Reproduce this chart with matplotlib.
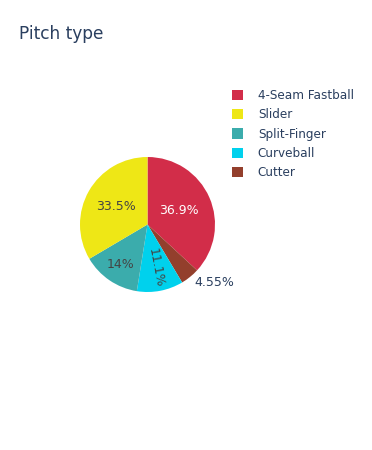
import numpy as np
import matplotlib
matplotlib.use("Agg")
import matplotlib.pyplot as plt
from matplotlib.patches import Patch

# ---- data ----
pitch_types = ["4-Seam Fastball", "Slider", "Split-Finger", "Curveball", "Cutter"]
shares = [36.9, 33.5, 14.0, 11.1, 4.55]
colors = ["#D22D49", "#EEE716", "#3BACAC", "#00D1ED", "#933F2C"]
title = "Pitch type"

# clockwise drawing order of slices starting at 12 o'clock
pie_order = [0, 4, 3, 2, 1]
# label placement (style): radial distance, text colour, radial rotation, outside
label_dist = {0: 0.50, 1: 0.54, 2: 0.72, 3: 0.65, 4: 1.11}
label_color = {0: "white", 1: "#444444", 2: "#444444", 3: "#444444", 4: "#2a3f5f"}
radial = {3}
outside = {4}

W, H = 372, 450
fig = plt.figure(figsize=(W / 100, H / 100), dpi=100)
plt.rcParams["font.family"] = ["DejaVu Sans"]

cx, cy, R = 147.5, 224.5, 67.5
lim = 1.5
size = 2 * lim * R
ax = fig.add_axes([(cx - size / 2) / W, (H - cy - size / 2) / H, size / W, size / H])

vals = [shares[i] for i in pie_order]
cols = [colors[i] for i in pie_order]
wedges, _ = ax.pie(vals, colors=cols, startangle=90, counterclock=False,
                   radius=1, wedgeprops=dict(linewidth=0))
ax.set_xlim(-lim, lim)
ax.set_ylim(-lim, lim)
ax.set_aspect("equal")
ax.axis("off")

for w, i in zip(wedges, pie_order):
    mid = np.deg2rad((w.theta1 + w.theta2) / 2)
    d = label_dist[i]
    x, y = d * np.cos(mid), d * np.sin(mid)
    txt = f"{shares[i]:.3g}%"
    if i in outside:
        ax.text(x, y, txt, ha="left", va="center", fontsize=9,
                color=label_color[i])
    else:
        rot = np.rad2deg(mid) if i in radial else 0
        ax.text(x, y, txt, ha="center", va="center", fontsize=9,
                color=label_color[i], rotation=rot, rotation_mode="anchor")

handles = [Patch(facecolor=c, edgecolor="none") for c in colors]
fig.legend(handles, pitch_types, loc="upper left",
           bbox_to_anchor=(232 / W, 1 - 89 / H), frameon=False,
           fontsize=8.64, handlelength=0.95, handleheight=0.95,
           handletextpad=1.2, labelspacing=0.53, borderpad=0,
           borderaxespad=0, labelcolor="#2a3f5f")

fig.text(19 / W, 1 - 34 / H, title, ha="left", va="center",
         fontsize=12.24, color="#2a3f5f")

fig.savefig("out.png", dpi=100)
